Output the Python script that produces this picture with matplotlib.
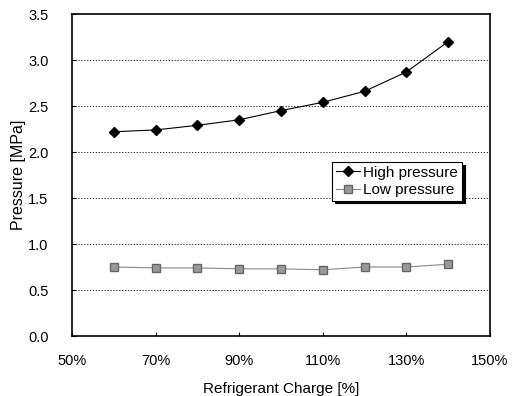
import matplotlib
matplotlib.use("Agg")
import matplotlib.pyplot as plt

plt.rcParams['font.family'] = ['Liberation Sans', 'DejaVu Sans']

charge = [60, 70, 80, 90, 100, 110, 120, 130, 140]
high_pressure = [2.22, 2.24, 2.29, 2.35, 2.45, 2.54, 2.66, 2.87, 3.20]
low_pressure = [0.75, 0.74, 0.74, 0.73, 0.73, 0.72, 0.75, 0.75, 0.78]
x_ticks = [50, 70, 90, 110, 130, 150]
x_tick_labels = ['50%', '70%', '90%', '110%', '130%', '150%']
y_ticks = [0.0, 0.5, 1.0, 1.5, 2.0, 2.5, 3.0, 3.5]

fig = plt.figure(figsize=(5.22, 3.96), dpi=100)
ax = fig.add_axes([72/522, 60/396, 418/522, 322/396])

ax.plot(charge, high_pressure, color='black', lw=0.8, marker='D', ms=5.5,
        markerfacecolor='black', label='High pressure')
ax.plot(charge, low_pressure, color='#888888', lw=0.8, marker='s', ms=5.5,
        markerfacecolor='#999999', markeredgecolor='#666666', label='Low pressure')

ax.set_xlim(50, 150)
ax.set_ylim(0, 3.5)
ax.set_xticks(x_ticks)
ax.set_xticklabels(x_tick_labels)
ax.set_yticks(y_ticks)
ax.set_yticklabels([f'{v:.1f}' for v in y_ticks])
ax.tick_params(direction='in', length=3, labelsize=10.5, width=0.8)
ax.tick_params(axis='x', pad=13)
ax.tick_params(axis='y', pad=17)
for v in y_ticks[1:-1]:
    ax.axhline(v, color='black', lw=0.6, ls=(0, (1.5, 2)), zorder=0)
for s in ax.spines.values():
    s.set_linewidth(1.2)

ax.set_xlabel('Refrigerant Charge [%]', fontsize=11, labelpad=10)
ax.set_ylabel('Pressure [MPa]', fontsize=11.5, labelpad=1)

leg = ax.legend(loc='upper left', bbox_to_anchor=((332-72)/418, (336-162)/322),
                borderaxespad=0,
                fontsize=11, frameon=True, fancybox=False, edgecolor='black',
                framealpha=1, borderpad=0.25, handlelength=1.6, handletextpad=0.2,
                labelspacing=0.2, shadow={'color': 'black', 'alpha': 1})
leg.get_frame().set_linewidth(0.8)

fig.savefig('out.png', dpi=100)
